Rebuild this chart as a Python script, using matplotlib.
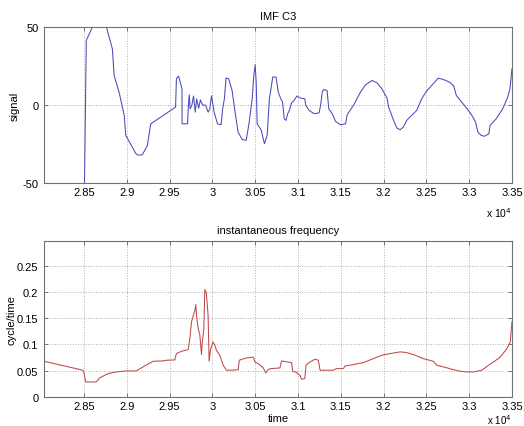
import numpy as np
import matplotlib.pyplot as plt
from matplotlib.ticker import FuncFormatter

# IMF C3 component: (time, amplitude) pairs
imf_pts = [
    (28030, -300), (28490, -120), (28527, 41.5), (28598, 50), (28680, 62),
    (28762, 50), (28832, 36), (28852, 19), (28910, 8.3), (28970, -6.6),
    (28988, -19.4), (29105, -31), (29125, -32), (29180, -32), (29240, -26),
    (29280, -12), (29570, -1.3), (29580, 17), (29605, 18.6), (29645, 10.5),
    (29646, -12), (29710, -12), (29720, 0), (29730, 6.6), (29740, -2.4),
    (29760, 0), (29780, 5.8), (29800, -4.5), (29816, 4), (29840, -2.0),
    (29860, 3.4), (29887, 0), (29920, 0), (29950, -4.5), (29970, -2.5),
    (29990, 6), (30015, -2.5), (30020, -4.5), (30060, -12), (30102, -12.6),
    (30120, -2.4), (30140, 4), (30160, 17.3), (30190, 17), (30230, 9.5),
    (30260, -2.4), (30300, -17.3), (30348, -22), (30395, -22.6), (30430, -11),
    (30465, 4), (30484, 19), (30500, 25.9), (30512, 14.7), (30523, -12),
    (30570, -16), (30608, -24.8), (30640, -19.4), (30666, 4), (30686, 10.9),
    (30705, 18), (30744, 18), (30770, 8.3), (30800, 4), (30820, 1.9),
    (30840, -8.8), (30860, -9.8), (30880, -5.5), (30900, -3.5), (30925, 1.5),
    (30955, 3), (30987, 5.8), (31030, 4.5), (31080, 4), (31090, 0),
    (31130, -3.4), (31188, -5.5), (31246, -5), (31265, 0), (31285, 8.8),
    (31300, 10), (31340, 9.4), (31360, -2.4), (31400, -5.5), (31440, -10.5),
    (31498, -12.6), (31556, -12), (31575, -6.2), (31652, 0.2), (31730, 8.3),
    (31788, 13), (31865, 15.8), (31923, 14.3), (31980, 10.5), (32040, 4.5),
    (32060, -1.3), (32117, -9.8), (32155, -14.7), (32194, -15.8), (32233, -14),
    (32270, -9.8), (32348, -5.5), (32387, -3.4), (32445, 4), (32500, 8.8),
    (32580, 13.7), (32638, 17.3), (32696, 16.5), (32773, 14.7), (32820, 12.2),
    (32850, 6.2), (32928, 0.9), (33006, -4.5), (33044, -7.7), (33075, -10.9),
    (33102, -17.3), (33140, -19.4), (33179, -20), (33230, -18.4), (33245, -13),
    (33315, -8.8), (33392, -2.4), (33450, 5), (33477, 10.5), (33500, 23.3),
]
t_imf = [p[0] for p in imf_pts]
x_imf = [p[1] for p in imf_pts]

# instantaneous frequency: (time, cycle/time) pairs
freq_pts = [
    (28032, 0.068), (28488, 0.051), (28500, 0.0458), (28520, 0.0286), (28644, 0.0286),
    (28683, 0.0363), (28780, 0.0445), (28878, 0.0477), (28995, 0.0496), (29112, 0.0496),
    (29190, 0.0573), (29307, 0.068), (29424, 0.0687), (29463, 0.070), (29560, 0.0706),
    (29580, 0.0827), (29638, 0.087), (29717, 0.0903), (29737, 0.111), (29756, 0.143),
    (29795, 0.165), (29807, 0.176), (29814, 0.156), (29834, 0.130), (29853, 0.119),
    (29873, 0.081), (29880, 0.100), (29900, 0.130), (29912, 0.205), (29930, 0.197),
    (29950, 0.156), (29962, 0.068), (29977, 0.089), (30008, 0.105), (30028, 0.0986),
    (30047, 0.089), (30087, 0.0795), (30126, 0.0604), (30165, 0.051), (30224, 0.051),
    (30302, 0.052), (30314, 0.070), (30400, 0.0744), (30478, 0.076), (30498, 0.0668),
    (30540, 0.0630), (30594, 0.0553), (30625, 0.0458), (30650, 0.052), (30680, 0.054),
    (30789, 0.0553), (30809, 0.0687), (30926, 0.0655), (30938, 0.049), (30980, 0.047),
    (31023, 0.0413), (31043, 0.0337), (31080, 0.035), (31094, 0.0604), (31141, 0.0668),
    (31200, 0.072), (31238, 0.070), (31258, 0.051), (31413, 0.051), (31452, 0.054),
    (31530, 0.054), (31550, 0.059), (31647, 0.0617), (31764, 0.0655), (31881, 0.073),
    (31979, 0.0795), (32076, 0.0827), (32193, 0.0859), (32271, 0.0846), (32369, 0.0795),
    (32466, 0.073), (32583, 0.068), (32622, 0.0604), (32700, 0.0573), (32817, 0.052),
    (32895, 0.049), (32973, 0.0477), (33050, 0.0477), (33148, 0.051), (33226, 0.0604),
    (33285, 0.0668), (33363, 0.076), (33441, 0.092), (33480, 0.105), (33500, 0.143),
]
t_freq = [p[0] for p in freq_pts]
f_inst = [p[1] for p in freq_pts]

xticks = [28500 + 500 * i for i in range(11)]

plt.rcParams['font.family'] = ['Liberation Sans', 'DejaVu Sans']
plt.rcParams['font.size'] = 8
plt.rcParams['axes.unicode_minus'] = False

fig = plt.figure(figsize=(5.24, 4.27), dpi=100)
ax1 = fig.add_axes([0.084, 0.569, 0.893, 0.365])
ax2 = fig.add_axes([0.084, 0.068, 0.893, 0.365])

fmt = FuncFormatter(lambda v, p: '%g' % round(v / 1e4, 4))
for ax in (ax1, ax2):
    ax.set_xlim(28033, 33500)
    ax.set_xticks(xticks)
    ax.xaxis.set_major_formatter(fmt)
    ax.grid(True, color='#b0b0b0', linestyle=':', linewidth=0.7)
    ax.tick_params(direction='in', length=3, width=0.6, color='#606060', pad=4,
                   top=True, right=True)
    ax.tick_params(axis='x', pad=3)
    for s in ax.spines.values():
        s.set_color('#707070')
        s.set_linewidth(0.8)

# exponent labels under the right end of each x axis
ax1.text(1.0, -0.14, r'x 10$^4$', transform=ax1.transAxes, ha='right',
         va='top', fontsize=7.5)
fig.text(0.977, 0.0, r'x 10$^4$', ha='right', va='bottom', fontsize=7)

ax1.plot(t_imf, x_imf, color='#4a4ab8', linewidth=0.75)
ax1.set_ylim(-50, 50)
ax1.set_yticks([-50, 0, 50])
ax1.set_ylabel('signal', labelpad=2)
ax1.set_title('IMF C3', fontsize=8, pad=6)

ax2.plot(t_freq, f_inst, color='#c04848', linewidth=0.75)
ax2.set_ylim(0, 0.297)
ax2.set_yticks([0, 0.05, 0.1, 0.15, 0.2, 0.25])
ax2.yaxis.set_major_formatter(FuncFormatter(lambda v, p: '%g' % round(v, 3)))
ax2.set_ylabel('cycle/time', labelpad=0)
ax2.set_xlabel('time', labelpad=1)
ax2.set_title('instantaneous frequency', fontsize=8, pad=6)

fig.savefig('out.png', dpi=100)
